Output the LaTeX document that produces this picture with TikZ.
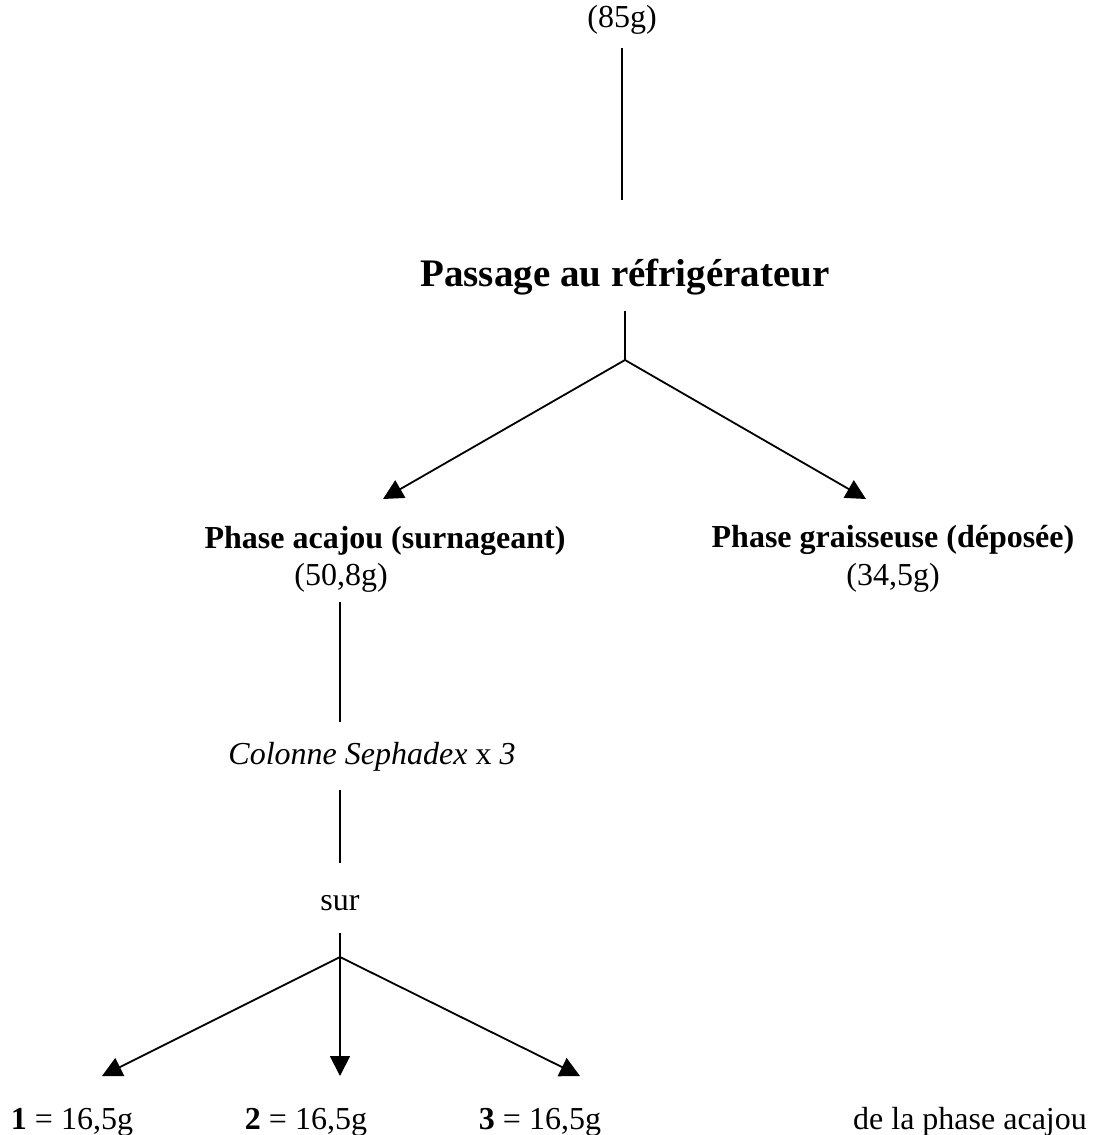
\documentclass[tikz,border=0pt]{standalone}
\usepackage{fontspec}
\setmainfont{Liberation Serif}
\usetikzlibrary{arrows.meta}
\begin{document}
\begin{tikzpicture}[x=0.5pt,y=-0.5pt,
  txt/.style={inner sep=0pt,font=\fontsize{16}{19}\selectfont},
  big/.style={inner sep=0pt,font=\fontsize{19.5}{23}\selectfont\bfseries},
  bld/.style={inner sep=0pt,font=\fontsize{16}{19}\selectfont\bfseries},
  link/.style={line width=0.65pt},
  arr/.style={line width=0.9pt,-{Triangle[length=10pt,width=10pt]}}]
\useasboundingbox (0,0) rectangle (1115,1135);
% top stage
\node[txt] (mass) at (622,20) {(85g)};
\node[big] (fridge) at (625,277) {Passage au réfrigérateur};
\coordinate (m1a) at (622,48);
\coordinate (m1b) at (622,200);
\draw[link] (m1a) -- (m1b);
\coordinate (f1) at (625,311);
\coordinate (split1) at (625,360);
\draw[link] (f1) -- (split1);
% two phases
\coordinate (tipA) at (383,499);
\coordinate (tipG) at (866,499);
\draw[arr] (split1) -- (tipA);
\draw[arr] (split1) -- (tipG);
\node[bld] (acajou) at (385,541) {Phase acajou (surnageant)};
\node[txt] (acajoumass) at (341,578) {(50,8g)};
\node[bld] (graisse) at (893,540) {Phase graisseuse (déposée)};
\node[txt] (graissemass) at (893,578) {(34,5g)};
% column stage
\node[txt] (column) at (372,757) {\itshape Colonne Sephadex \upshape x \itshape 3};
\coordinate (c1a) at (340,602);
\coordinate (c1b) at (340,722);
\draw[link] (c1a) -- (c1b);
\node[txt] (sur) at (340,903) {sur};
\coordinate (c2a) at (340,790);
\coordinate (c2b) at (340,863);
\draw[link] (c2a) -- (c2b);
\coordinate (s1) at (340,933);
\coordinate (split2) at (340,957);
\draw[link] (s1) -- (split2);
% fractions
\coordinate (t1) at (102,1076);
\coordinate (t2) at (340,1076);
\coordinate (t3) at (580,1076);
\draw[arr] (split2) -- (t1);
\draw[arr] (split2) -- (t2);
\draw[arr] (split2) -- (t3);
\node[txt] (fr1) at (72,1122) {\textbf{1} = 16,5g};
\node[txt] (fr2) at (306,1122) {\textbf{2} = 16,5g};
\node[txt] (fr3) at (540,1122) {\textbf{3} = 16,5g};
\node[txt] (note) at (970,1122) {de la phase acajou};
\end{tikzpicture}
\end{document}
